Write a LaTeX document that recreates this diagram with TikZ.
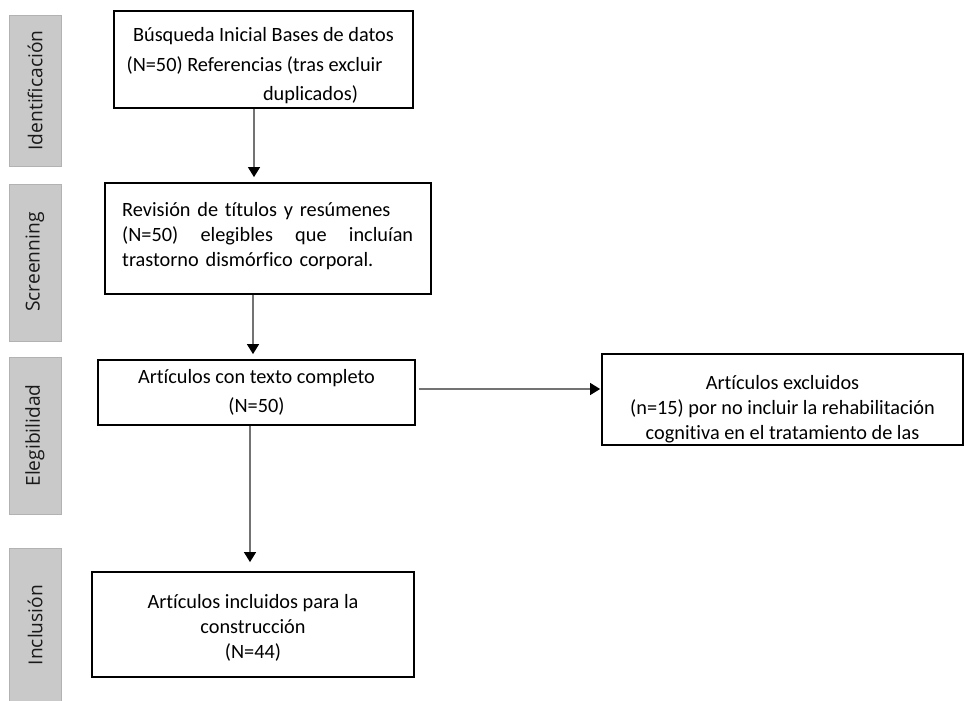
\documentclass[tikz,border=0pt]{standalone}
\usepackage{fontspec}
\setmainfont{Carlito}[Ligatures=CommonOff]
\newfontfamily\labelfont{Open Sans}
\usetikzlibrary{arrows.meta,calc}
\begin{document}
\begin{tikzpicture}[x=1pt,y=-1pt,
  sidebox/.style={draw=black!30,fill=black!21,line width=0.8pt},
  sidetext/.style={rotate=90,font=\labelfont\fontsize{19.2}{22}\selectfont,text=black!90},
  flowbox/.style={draw=black,line width=1.8pt},
  boxtext/.style={font=\fontsize{20.3}{25}\selectfont,align=center,inner sep=0pt},
  flowarrow/.style={draw=black!55,line width=1.2pt,-{Triangle[width=12pt,length=10pt,color=black]}}
]
\useasboundingbox (0,0) rectangle (964,701);
% side labels
\draw[sidebox] (9,15) rectangle (61,166);
\node[sidetext] (lid) at (35,90.5) {Identificación};
\draw[sidebox] (9,184) rectangle (61,341);
\node[sidetext] (lsc) at (35,262) {Screenning};
\draw[sidebox] (9,357) rectangle (61,514);
\node[sidetext] (lel) at (35,435.5) {Elegibilidad};
\draw[sidebox] (9,548) rectangle (61,702);
\node[sidetext] (lin) at (35,625) {Inclusión};
% boxes
\node[flowbox,minimum width=299pt,minimum height=97pt,inner sep=0pt] (b1) at (263.5,59.5) {};
\node[boxtext,font=\fontsize{20.3}{29.5}\selectfont] (t1) at (263.5,66) {Búsqueda Inicial Bases de datos\\(N=50) Referencias (tras excluir\hspace*{18pt}\mbox{}\\\hspace*{94pt}duplicados)};
\node[flowbox,minimum width=326pt,minimum height=111pt,inner sep=0pt] (b2) at (268,238.5) {};
\node[boxtext,align=left,text width=291pt,anchor=north west] (t2) at (122,202) {Revisión de títulos y resúmenes\\(N=50)\hfill elegibles\hfill que\hfill incluían\\trastorno dismórfico corporal.};
\node[flowbox,minimum width=317pt,minimum height=65pt,inner sep=0pt] (b3) at (256.5,392.5) {};
\node[boxtext,font=\fontsize{20.3}{29}\selectfont] (t3) at (256.5,392) {Artículos con texto completo\\(N=50)};
\node[flowbox,minimum width=361pt,minimum height=91pt,inner sep=0pt] (b4) at (782.5,399.5) {};
\node[boxtext] (t4) at (782.5,409) {Artículos excluidos\\(n=15) por no incluir la rehabilitación\\cognitiva en el tratamiento de las};
\node[flowbox,minimum width=322pt,minimum height=105pt,inner sep=0pt] (b5) at (253,624.5) {};
\node[boxtext] (t5) at (253,628) {Artículos incluidos para la\\construcción\\(N=44)};
% arrows
\draw[flowarrow,shorten >=5pt] (b1.south -| 254,0) -- (b2.north -| 254,0);
\draw[flowarrow,shorten >=5pt] (b2.south -| 253,0) -- (b3.north -| 253,0);
\draw[flowarrow,shorten <=3pt,shorten >=1pt] (b3.east |- 0,389) -- (b4.west |- 0,389);
\draw[flowarrow,shorten >=9pt] (b3.south -| 250,0) -- (b5.north -| 250,0);
\end{tikzpicture}
\end{document}
